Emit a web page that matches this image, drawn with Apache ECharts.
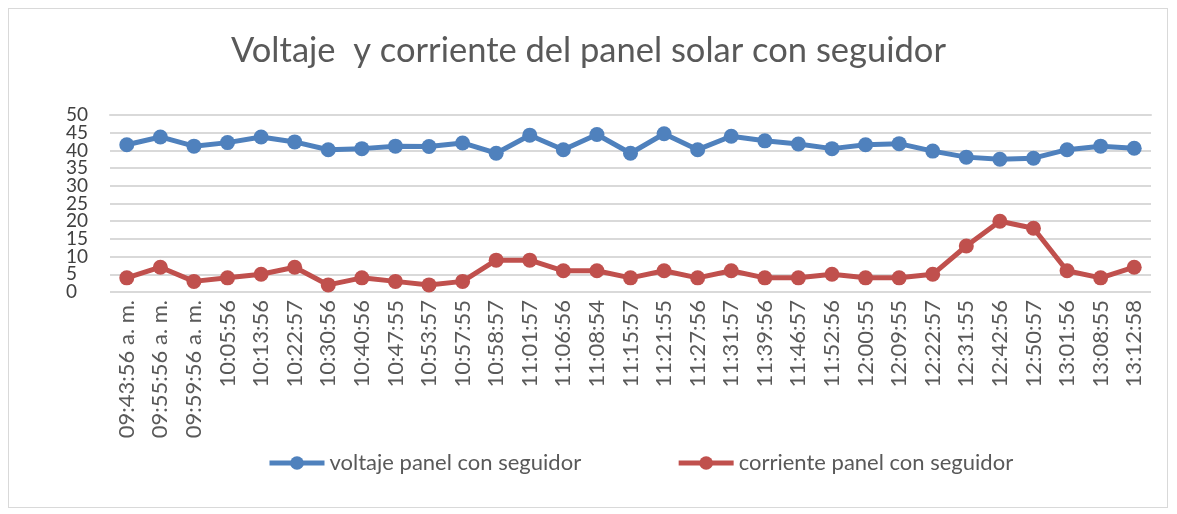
<!DOCTYPE html>
<html>
<head>
<meta charset="utf-8">
<script src="https://cdn.jsdelivr.net/npm/echarts@6/dist/echarts.min.js"></script>
<style>
  html, body { margin: 0; padding: 0; background: #fff; }
  #frame { position: absolute; left: 8px; top: 8px; width: 1160px; height: 500px; border: 1px solid #d9d9d9; box-sizing: border-box; }
  #chart { position: absolute; left: 0; top: 0; width: 1177px; height: 514px; }
</style>
</head>
<body>
<div id="frame"></div>
<div id="chart"></div>
<script>
const categories = [
  '09:43:56 a. m.', '09:55:56 a. m.', '09:59:56 a. m.', '10:05:56', '10:13:56', '10:22:57',
  '10:30:56', '10:40:56', '10:47:55', '10:53:57', '10:57:55', '10:58:57', '11:01:57',
  '11:06:56', '11:08:54', '11:15:57', '11:21:55', '11:27:56', '11:31:57', '11:39:56',
  '11:46:57', '11:52:56', '12:00:55', '12:09:55', '12:22:57', '12:31:55', '12:42:56',
  '12:50:57', '13:01:56', '13:08:55', '13:12:58'
];
const voltaje = [
  41.6, 43.8, 41.2, 42.2, 43.8, 42.4, 40.2, 40.5, 41.2, 41.1, 42.1, 39.2, 44.3,
  40.2, 44.5, 39.2, 44.7, 40.2, 44.0, 42.7, 41.8, 40.5, 41.6, 41.9, 39.8, 38.1,
  37.5, 37.8, 40.2, 41.2, 40.6
];
const corriente = [
  4, 7, 3, 4, 5, 7, 2, 4, 3, 2, 3, 9, 9, 6, 6, 4, 6, 4, 6, 4, 4, 5, 4, 4, 5, 13,
  20, 18, 6, 4, 7
];
const seriesNames = ['voltaje panel con seguidor', 'corriente panel con seguidor'];
const titleText = 'Voltaje  y corriente del panel solar con seguidor';
const yMin = 0, yMax = 50, yStep = 5;

const font = 'Lato, "Open Sans", sans-serif';
const gridColor = '#d9d9d9';
const gridBox = { left: 110, right: 26, top: 115, bottom: 222 };
const plotH = 514 - gridBox.top - gridBox.bottom;
const stepPx = plotH * yStep / (yMax - yMin);

const chart = echarts.init(document.getElementById('chart'), null, { renderer: 'canvas' });

const yLabelStyle = {
  align: 'left',
  margin: 44,
  showMinLabel: true,
  showMaxLabel: true,
  fontFamily: font,
  fontSize: 19,
  color: '#404040'
};

function lineSeries(name, data, color) {
  return {
    name: name,
    type: 'line',
    data: data,
    symbol: 'circle',
    symbolSize: 15,
    lineStyle: { width: 5, color: color },
    itemStyle: { color: color },
    emphasis: { disabled: true },
    animation: false
  };
}

chart.setOption({
  animation: false,
  title: {
    text: titleText,
    left: 'center',
    top: 28,
    textStyle: { fontFamily: font, fontSize: 34.5, fontWeight: 'normal', color: '#595959' }
  },
  // main plot, plus an inner band (one step in from top and bottom) that carries
  // the odd tick labels so the dense labels are not dropped as overlapping
  grid: [
    { left: gridBox.left, right: gridBox.right, top: gridBox.top, bottom: gridBox.bottom },
    { left: gridBox.left, right: gridBox.right, top: gridBox.top + stepPx, bottom: gridBox.bottom + stepPx }
  ],
  xAxis: [
    {
      type: 'category',
      data: categories,
      boundaryGap: true,
      axisLine: { show: false },
      axisTick: { show: false },
      axisLabel: {
        rotate: 90,
        interval: 0,
        margin: 8,
        fontFamily: font,
        fontSize: 22,
        color: '#595959'
      }
    },
    {
      // top edge of the plot, drawn like the gridlines
      type: 'category',
      data: categories,
      position: 'top',
      axisLine: { show: true, lineStyle: { color: gridColor, width: 2 } },
      axisTick: { show: false },
      axisLabel: { show: false },
      splitLine: { show: false }
    },
    { type: 'category', data: categories, gridIndex: 1, show: false }
  ],
  yAxis: [
    {
      type: 'value',
      min: yMin,
      max: yMax,
      interval: yStep,
      axisLine: { show: false },
      axisTick: { show: false },
      splitLine: { show: true, lineStyle: { color: gridColor, width: 2 } },
      axisLabel: Object.assign({}, yLabelStyle, {
        formatter: v => (v % (2 * yStep) === 0 ? String(v) : '')
      })
    },
    {
      type: 'value',
      gridIndex: 1,
      min: yMin + yStep,
      max: yMax - yStep,
      interval: 2 * yStep,
      axisLine: { show: false },
      axisTick: { show: false },
      splitLine: { show: false },
      axisLabel: yLabelStyle
    }
  ],
  legend: {
    data: seriesNames,
    bottom: 35,
    left: 262,
    itemWidth: 55,
    itemHeight: 17,
    itemGap: 95,
    lineStyle: { width: 5 },
    textStyle: { fontFamily: font, fontSize: 22, color: '#595959' }
  },
  series: [
    lineSeries(seriesNames[0], voltaje, '#4f81bd'),
    lineSeries(seriesNames[1], corriente, '#c0504d')
  ]
});
</script>
</body>
</html>
